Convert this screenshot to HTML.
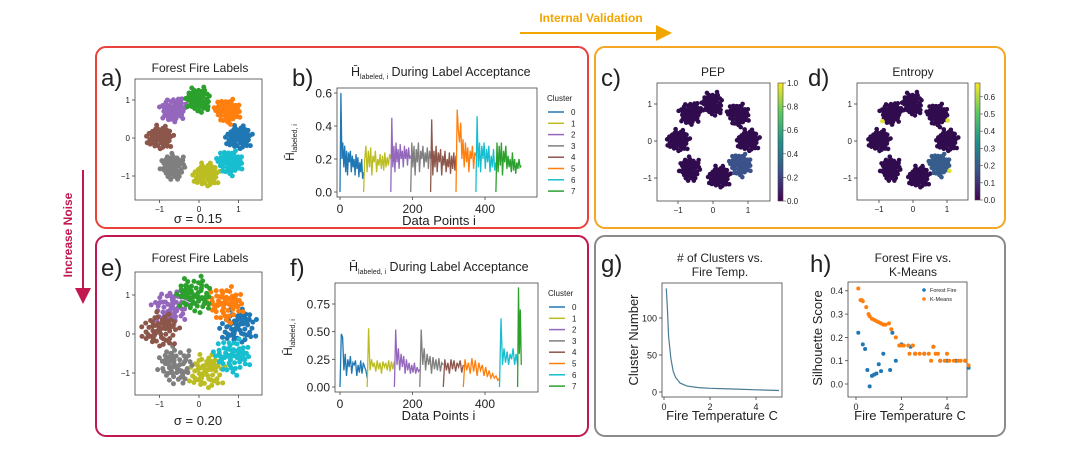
<!DOCTYPE html>
<html><head><meta charset="utf-8">
<style>
html,body{margin:0;padding:0;background:#fff;}
svg{display:block;font-family:"Liberation Sans","DejaVu Sans",sans-serif;}
</style></head>
<body>
<svg id="fig" width="1080" height="450" viewBox="0 0 1080 450" xmlns="http://www.w3.org/2000/svg">
<defs>
<linearGradient id="viridis" x1="0" y1="1" x2="0" y2="0">
<stop offset="0" stop-color="#440154"/><stop offset="0.25" stop-color="#3b528b"/><stop offset="0.5" stop-color="#21918c"/><stop offset="0.75" stop-color="#5ec962"/><stop offset="1" stop-color="#fde725"/>
</linearGradient>
<marker id="arrO" markerWidth="8" markerHeight="8" refX="4" refY="4" orient="auto"><path d="M0,0 L8,4 L0,8 z" fill="#f0a500"/></marker>
<marker id="arrR" markerWidth="8" markerHeight="8" refX="4" refY="4" orient="auto"><path d="M0,0 L8,4 L0,8 z" fill="#c0184f"/></marker>
</defs>
<text x="591" y="22" font-size="12" font-weight="bold" fill="#f0a500" text-anchor="middle">Internal Validation</text>
<line x1="520" y1="33" x2="664" y2="33" stroke="#f0a500" stroke-width="2" marker-end="url(#arrO)"/>
<text transform="translate(72,235) rotate(-90)" font-size="12" font-weight="bold" fill="#c0184f" text-anchor="middle">Increase Noise</text>
<line x1="83" y1="170" x2="83" y2="296" stroke="#c0184f" stroke-width="2" marker-end="url(#arrR)"/>
<rect x="96" y="47" width="492" height="181" rx="10" fill="#fff" stroke="#e8423a" stroke-width="2"/>
<rect x="595" y="47" width="410" height="181" rx="10" fill="#fff" stroke="#f5a623" stroke-width="2"/>
<rect x="96" y="236" width="492" height="200" rx="10" fill="#fff" stroke="#c0184f" stroke-width="2"/>
<rect x="595" y="236" width="410" height="200" rx="10" fill="#fff" stroke="#8a8a8a" stroke-width="2"/>
<g id="root"></g>
</svg>
<script>
// ---------- data ----------
const clusterColors = ["#1f77b4","#bcbd22","#9467bd","#7f7f7f","#8c564b","#ff7f0e","#17becf","#2ca02c"];
const ringAnglesA = [0, -80, 130, -130, 180, 45, -40, 90];
const ringAnglesE = [10, -80, 135, -125, 175, 50, -35, 95];
const blobOffsets = [[0,0],[.1,.05],[-.1,.08],[.05,-.12],[-.08,-.1],[.18,.02],[-.2,.03],[.02,.2],[-.03,-.2],[.15,.15],[-.15,.14],[.14,-.16],[-.16,-.13],[.25,-.05],[-.24,-.06],[.06,.26],[-.07,.24],[.22,.12],[-.12,.22],[.1,-.24],[.08,.1],[-.05,.12],[.12,-.05],[-.12,-.02],[.03,-.06],[-.02,.05],[.2,-.12],[-.19,.16],[.28,.06],[-.27,.1],[.04,-.28],[.17,.22],[-.22,-.18],[.24,.2],[.3,-.2],[-.3,-.15],[.35,.1],[-.1,.33],[.12,.32],[-.33,.02],[.09,-.14],[-.06,-.05],[.16,.07],[-.14,.06],[.07,.17],[-.09,-.17],[.21,-.2],[0,.13],[.05,.05],[-.05,-.02],[.13,.1],[-.1,-.1],[.2,.1],[-.2,-.1],[.1,.2],[-.1,-.22]];
const pepValues = [0,0,0,0,0,0,0.25,0];
const entropyValues = [0,0,0,0,0,0,0.2,0];

const segStartsB = [0,65,140,195,250,320,375,430,500];
const segValsB = [
 [0,0.6,0.2,0.3,0.15,0.28,0.12,0.25,0.1,0.24,0.18,0.25,0.12,0.22,0.15,0.2,0.1,0.23,0.14,0.21,0.09,0.18,0.12,0.2,0.08,0.12],
 [0,0.2,0.28,0.12,0.25,0.15,0.27,0.1,0.22,0.18,0.25,0.12,0.2,0.16,0.23,0.14,0.22,0.13,0.24,0.15,0.21,0.16,0.23,0.2],
 [0,0.45,0.15,0.28,0.12,0.3,0.18,0.26,0.14,0.29,0.2,0.25,0.15,0.28,0.2,0.26,0.16,0.27,0.2,0.22],
 [0,0.3,0.15,0.28,0.1,0.26,0.18,0.3,0.12,0.25,0.2,0.28,0.15,0.24,0.18,0.27,0.14,0.25,0.2],
 [0,0.44,0.1,0.25,0.15,0.28,0.12,0.24,0.18,0.26,0.1,0.22,0.16,0.25,0.12,0.2,0.15,0.24,0.11,0.22,0.14,0.24,0.13,0.22],
 [0,0.5,0.38,0.3,0.42,0.2,0.32,0.15,0.3,0.18,0.27,0.12,0.25,0.2,0.28,0.14,0.24,0.22],
 [0,0.46,0.15,0.3,0.12,0.28,0.2,0.3,0.14,0.26,0.18,0.28,0.12,0.22,0.15,0.26,0.13,0.18],
 [0,0.3,0.12,0.28,0.16,0.3,0.1,0.25,0.18,0.28,0.14,0.22,0.15,0.2,0.12,0.24,0.13,0.2,0.11,0.18,0.14,0.2,0.15,0.16]];
const segStartsF = [0,75,150,220,285,340,440,490,500];
const segValsF = [
 [0,0.48,0.45,0.15,0.3,0.1,0.25,0.18,0.28,0.12,0.22,0.2,0.24,0.1,0.2,0.13,0.24,0.12,0.22,0.18,0.15,0.08],
 [0,0.53,0.15,0.25,0.18,0.22,0.14,0.24,0.16,0.22,0.12,0.23,0.18,0.22,0.15,0.24,0.14,0.23,0.16,0.23],
 [0,0.52,0.2,0.35,0.15,0.3,0.18,0.28,0.12,0.25,0.15,0.22,0.12,0.2,0.13,0.22,0.12,0.18,0.14,0.16],
 [0,0.52,0.2,0.35,0.15,0.3,0.2,0.28,0.12,0.27,0.16,0.25,0.15,0.26,0.14,0.22,0.2],
 [0,0.25,0.15,0.22,0.12,0.25,0.16,0.24,0.14,0.22,0.18,0.24,0.13,0.2],
 [0,0.25,0.15,0.22,0.12,0.26,0.14,0.24,0.1,0.22,0.15,0.2,0.1,0.18,0.09,0.15,0.08,0.12,0.08,0.1,0.06,0.08],
 [0,0.62,0.2,0.35,0.22,0.32,0.2,0.3,0.25,0.35,0.2,0.3,0.2],
 [0,0.9,0.3,0.7,0.2]];
const ticksB = [0,0.2,0.4,0.6];
const ticksF = [0,0.25,0.5,0.75];
const ticksX = [0,200,400];

const tempG = [0.1,0.15,0.2,0.3,0.4,0.5,0.7,1,1.5,2,3,4,5];
const clustersG = [140,110,75,45,28,20,12,8,6,5,4,3,2];
const ticksGy = [0,50,100];
const ticksT = [0,2,4];

const ffTemp = [0.1,0.3,0.4,0.5,0.6,0.7,0.8,0.9,1.0,1.1,1.2,1.5,1.6,1.75,2.0,2.4,2.6,3.0,3.4,3.7,4.0,4.4,4.8,4.95];
const ffScore = [0.22,0.17,0.15,0.06,-0.01,0.035,0.04,0.045,0.085,0.055,0.13,0.06,0.22,0.1,0.17,0.16,0.13,0.13,0.16,0.1,0.1,0.1,0.1,0.07];
const kmTemp = [0.1,0.2,0.25,0.3,0.45,0.55,0.6,0.7,0.8,0.9,1.0,1.1,1.2,1.3,1.45,1.55,1.75,1.9,2.0,2.1,2.3,2.5,2.35,2.6,2.8,3.0,3.2,3.4,3.5,3.3,3.6,3.7,3.9,4.0,4.1,4.3,4.5,4.6,4.8,4.95];
const kmScore = [0.41,0.36,0.36,0.355,0.33,0.3,0.29,0.28,0.275,0.27,0.265,0.26,0.255,0.255,0.26,0.235,0.2,0.165,0.165,0.165,0.165,0.165,0.13,0.13,0.13,0.13,0.13,0.16,0.13,0.1,0.13,0.1,0.1,0.13,0.1,0.1,0.1,0.1,0.1,0.08];
const ticksH = [0,0.1,0.2,0.3,0.4];
const cbTicksPEP = [0,0.2,0.4,0.6,0.8,1.0];
const cbTicksEnt = [0,0.1,0.2,0.3,0.4,0.5,0.6];

// ---------- helpers ----------
const NS = "http://www.w3.org/2000/svg";
const root = document.getElementById("root");
function mk(tag, attrs, parent){
  const e = document.createElementNS(NS, tag);
  for (const k in attrs) e.setAttribute(k, attrs[k]);
  (parent||root).appendChild(e);
  return e;
}
function txt(x,y,s,size,anchor,name,extra){
  const t = mk("text", Object.assign({x:x,y:y,"font-size":size,"text-anchor":anchor||"middle",fill:"#222"}, extra||{}));
  t.textContent = s;
  
  
  return t;
}
function lin(x0,x1,d0,d1){ return v => x0 + (v-d0)/(d1-d0)*(x1-x0); }
function viridis(v){
  const c=[[48,12,78],[59,82,139],[33,145,140],[94,201,98],[253,231,37]];
  const p=Math.max(0,Math.min(1,v))*4, i=Math.min(3,Math.floor(p)), f=p-i;
  const r=c[i].map((a,k)=>Math.round(a+(c[i+1][k]-a)*f));
  return "rgb("+r.join(",")+")";
}
function frame(x0,y0,x1,y1,name){
  const r = mk("rect",{x:x0,y:y0,width:x1-x0,height:y1-y0,fill:"none",stroke:"#444","stroke-width":0.8});
  
  
}
function xticks(sx,vals,y,size,labels,name){
  vals.forEach((v,i)=>{
    const l = mk("line",{x1:sx(v),x2:sx(v),y1:y,y2:y+3,stroke:"#444","stroke-width":0.8});
    
    
    txt(sx(v), y+4+size, labels?labels[i]:String(v), size, "middle", name+'-label');
  });
}
function yticks(sy,vals,x,size,labels,name){
  vals.forEach((v,i)=>{
    const l = mk("line",{x1:x-3,x2:x,y1:sy(v),y2:sy(v),stroke:"#444","stroke-width":0.8});
    
    
    txt(x-5, sy(v)+size*0.38, labels?labels[i]:String(v), size, "end", name+'-label');
  });
}

// ---------- scatter ring panel ----------
function ringPanel(o){
  frame(o.x0,o.y0,o.x1,o.y1,o.name+'-axes');
  const sx = lin(o.cx-o.ux, o.cx+o.ux, -1, 1);
  const sy = lin(o.cy+o.uy, o.cy-o.uy, -1, 1);
  o.angles.forEach((a,ci)=>{
    const rad = a*Math.PI/180, cxv = Math.cos(rad), cyv = Math.sin(rad);
    const g = mk("g",{});
    
    
    blobOffsets.forEach((p,k)=>{
      const rot = rad*0.7 + ci;
      const dx = (p[0]*Math.cos(rot) - p[1]*Math.sin(rot))*o.spread;
      const dy = (p[0]*Math.sin(rot) + p[1]*Math.cos(rot))*o.spread;
      const col = o.colorFn(ci,k);
      const c = mk("circle",{cx:sx(cxv+dx),cy:sy(cyv+dy),r:o.r,fill:col},g);
      
      
    });
  });
  xticks(sx,[-1,0,1],o.y1,o.fs,["−1","0","1"],o.name+'-x');
  yticks(sy,[-1,0,1],o.x0,o.fs,["−1","0","1"],o.name+'-y');
}
function colorbar(x,y0,y1,ticks,max,name){
  const r = mk("rect",{x:x,y:y0,width:5,height:y1-y0,fill:"url(#viridis)",stroke:"#444","stroke-width":0.6});
  
  
  const s = lin(y1,y0,0,max);
  ticks.forEach(v=>{
    const l = mk("line",{x1:x+5,x2:x+8,y1:s(v),y2:s(v),stroke:"#444","stroke-width":0.6});
    
    
    txt(x+9, s(v)+3, v.toFixed(1), 8, "start", name+'-label');
  });
}

// ---------- line panel ----------
function linePanel(o){
  frame(o.x0,o.y0,o.x1,o.y1,o.name+'-axes');
  const sx = lin(340, 340+72.5*2, 0, 400);
  const sy = lin(o.yz, o.yt, 0, o.tv);
  o.vals.forEach((arr,ci)=>{
    const s0=o.starts[ci], s1=o.starts[ci+1];
    const pts = arr.map((v,k)=>sx(s0+(s1-s0)*k/(arr.length-1)).toFixed(1)+","+sy(v).toFixed(1)).join(" ");
    const pl = mk("polyline",{points:pts,fill:"none",stroke:clusterColors[ci],"stroke-width":1.3});
    
    
  });
  xticks(sx,ticksX,o.y1,12,null,o.name+'-x');
  yticks(sy,o.ticks,o.x0,12,o.tlabels,o.name+'-y');
  txt(o.x1+10,o.y0+13,"Cluster",8,"start",o.name+'-legend-title');
  clusterColors.forEach((c,i)=>{
    const y=o.y0+24+i*11.3;
    const l = mk("line",{x1:o.x1+11,x2:o.x1+27,y1:y,y2:y,stroke:c,"stroke-width":1.5});
    
    
    txt(o.x1+34,y+3,String(i),8,"start",o.name+'-legend-label-'+i);
  });
  const t = txt(o.x0+14, o.y0-12, "", 12.5, "start", o.name+'-title');
  const a = document.createElementNS(NS,"tspan"); a.textContent="H̄"; t.appendChild(a);
  const b = document.createElementNS(NS,"tspan"); b.setAttribute("font-size","7"); b.setAttribute("dy","3"); b.textContent="labeled, i"; t.appendChild(b);
  const c = document.createElementNS(NS,"tspan"); c.setAttribute("dy","-3"); c.textContent=" During Label Acceptance"; t.appendChild(c);
  const yl = txt(0,0,"",12,"middle",o.name+'-y-title',{transform:"translate("+(o.x0-43)+","+((o.y0+o.y1)/2)+") rotate(-90)"});
  const d = document.createElementNS(NS,"tspan"); d.textContent="H̄"; yl.appendChild(d);
  const e = document.createElementNS(NS,"tspan"); e.setAttribute("font-size","7"); e.setAttribute("dy","3"); e.textContent="labeled, i"; yl.appendChild(e);
  txt((o.x0+o.x1)/2+2, o.y1+28, "Data Points i", 13, "middle", o.name+'-x-title');
}

// ---------- panel letters & titles ----------
[["a)",101,86],["b)",292,86],["c)",601,86],["d)",808,86],["e)",101,276],["f)",290,276],["g)",601,272],["h)",810,272]].forEach(p=>{
  txt(p[1],p[2],p[0],24,"start","panel-letter-"+p[0][0]);
});

// a
txt(200,72,"Forest Fire Labels",12,"middle","a-title");
ringPanel({name:"a",x0:135,y0:79,x1:262,y1:200,cx:199,cy:138,ux:39.5,uy:38,angles:ringAnglesA,spread:1,r:2.5,fs:8,colorFn:(ci)=>clusterColors[ci]});
txt(198,223,"σ = 0.15",13,"middle","a-sigma");
// e
txt(200,262,"Forest Fire Labels",12,"middle","e-title");
ringPanel({name:"e",x0:135,y0:272,x1:262,y1:395,cx:199,cy:334,ux:39.5,uy:39,angles:ringAnglesE,spread:1.4,r:2.5,fs:8,colorFn:(ci)=>clusterColors[ci]});
txt(198,425,"σ = 0.20",13,"middle","e-sigma");

// b, f
linePanel({name:"b",x0:337,y0:88,x1:537,y1:197,yz:192,yt:93,tv:0.6,ticks:ticksB,tlabels:["0.0","0.2","0.4","0.6"],starts:segStartsB,vals:segValsB});
linePanel({name:"f",x0:335,y0:283,x1:538,y1:392,yz:387,yt:304,tv:0.75,ticks:ticksF,tlabels:["0.00","0.25","0.50","0.75"],starts:segStartsF,vals:segValsF});

// c, d
txt(713,76,"PEP",12,"middle","c-title");
ringPanel({name:"c",x0:657,y0:83,x1:770,y1:201,cx:713,cy:141,ux:35,uy:37,angles:ringAnglesA,spread:0.95,r:2.3,fs:8,colorFn:(ci)=>viridis(pepValues[ci])});
colorbar(778,83,201,cbTicksPEP,1.0,"c-colorbar");
txt(913,76,"Entropy",12,"middle","d-title");
ringPanel({name:"d",x0:857,y0:83,x1:968,y1:200,cx:913,cy:141,ux:34,uy:37,angles:ringAnglesA,spread:0.95,r:2.3,fs:8,colorFn:(ci,k)=>(k===36&&(ci===5||ci===6||ci===2))?viridis(0.95):viridis(entropyValues[ci]/0.68)});
colorbar(975,83,200,cbTicksEnt,0.68,"d-colorbar");

// g
txt(720,262,"# of Clusters vs.",12,"middle","g-title-1");
txt(720,276,"Fire Temp.",12,"middle","g-title-2");
frame(662,283,782,397,"g-axes");
const gx = lin(664,710,0,2), gy = lin(392,318,0,100);
const gl = mk("polyline",{points:tempG.map((t,i)=>gx(t).toFixed(1)+","+gy(clustersG[i]).toFixed(1)).join(" "),fill:"none",stroke:"#4a7a96","stroke-width":1.2});


xticks(gx,ticksT,397,9,null,"g-x");
yticks(gy,ticksGy,662,9,null,"g-y");
txt(0,0,"Cluster Number",13,"middle","g-y-title",{transform:"translate(638,340) rotate(-90)"});
txt(722,420,"Fire Temperature C",13,"middle","g-x-title");

// h
txt(913,262,"Forest Fire vs.",12,"middle","h-title-1");
txt(913,276,"K-Means",12,"middle","h-title-2");
frame(848,282,967,397,"h-axes");
const hx = lin(856,901.5,0,2), hy = lin(384,290.8,0,0.4);
ffTemp.forEach((t,i)=>{
  const c = mk("circle",{cx:hx(t),cy:hy(ffScore[i]),r:2,fill:"#1f77b4"});
  
  
});
kmTemp.forEach((t,i)=>{
  const c = mk("circle",{cx:hx(t),cy:hy(kmScore[i]),r:2,fill:"#ff7f0e"});
  
  
});
xticks(hx,ticksT,397,9,null,"h-x");
yticks(hy,ticksH,848,9,ticksH.map(v=>v.toFixed(1)),"h-y");
const lg1 = mk("circle",{cx:924,cy:290,r:1.8,fill:"#1f77b4"});


txt(930,292,"Forest Fire",5.5,"start","h-legend-forest-fire");
const lg2 = mk("circle",{cx:924,cy:299,r:1.8,fill:"#ff7f0e"});


txt(930,301,"K-Means",5.5,"start","h-legend-kmeans");
txt(0,0,"Silhouette Score",13,"middle","h-y-title",{transform:"translate(822,338) rotate(-90)"});
txt(910,420,"Fire Temperature C",13,"middle","h-x-title");
</script>
</body></html>
